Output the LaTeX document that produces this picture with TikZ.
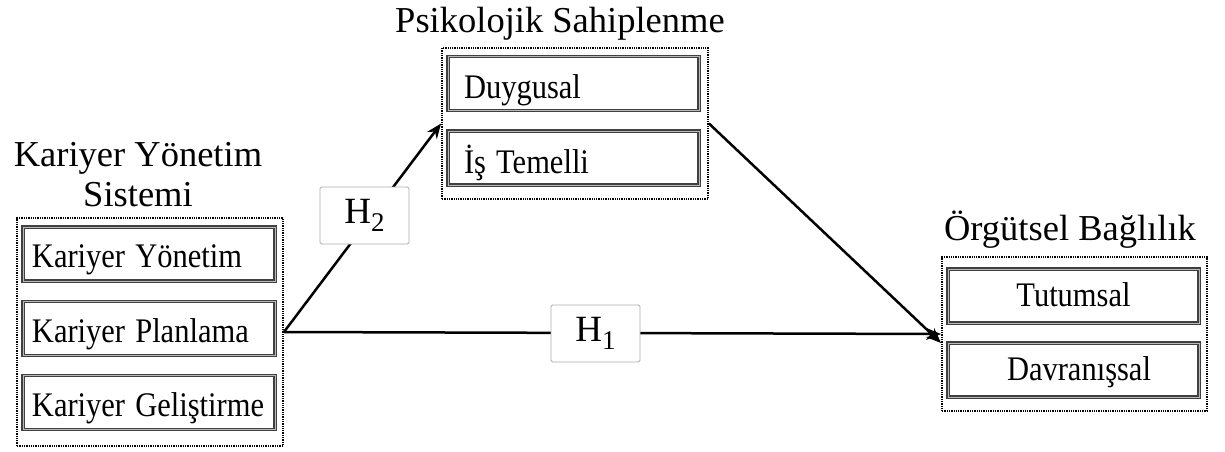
\documentclass[tikz,border=0pt]{standalone}
\usepackage{fontspec}
\setmainfont{Liberation Serif}
\usetikzlibrary{arrows.meta}
\newcommand{\ttl}{\fontsize{36.5}{40}\selectfont}
\newcommand{\inn}{\fontsize{30.5}{34}\selectfont}
\newcommand{\tx}[1]{\scalebox{1}[1.13]{#1}}
\newcommand{\hyp}[1]{\fontsize{37}{40}\selectfont H\raisebox{-8pt}{\fontsize{27}{29}\selectfont #1}}
\tikzset{
  grp/.style={draw=black, line width=1.9pt, dash pattern=on 1.3pt off 1.0pt, inner sep=0pt},
  inbox/.style={draw=black!75, line width=1.2pt, double=gray!55, double distance=0.8pt, fill=white, minimum height=54pt, inner sep=0pt, font=\inn},
  lbox/.style={inbox, text width=252pt, align=left, text height=27pt, text depth=0pt},
  tbox/.style={inbox, text width=251pt, align=left, text height=30pt, text depth=0pt},
  rbox/.style={inbox, minimum width=251pt, text height=20pt, text depth=0pt},
  hbox/.style={draw=gray!65, line width=0.8pt, rounded corners=1.5pt, fill=white, minimum width=89pt, minimum height=57pt, inner sep=0pt},
  arr/.style={line width=2.5pt, -{Stealth[length=15pt,width=12pt]}},
  ttlnode/.style={font=\ttl, inner sep=0pt, align=center}
}
\begin{document}
\begin{tikzpicture}[x=1pt,y=-1pt]
\useasboundingbox (0,0) rectangle (1225,451);
% left group
\node[grp, minimum width=266pt, minimum height=228pt] (lg) at (150,332) {};
\node[lbox] (l1) at (149,254) {\hspace*{9pt}\tx{Kariyer Yönetim}};
\node[lbox] (l2) at (149,328.5) {\hspace*{9pt}\tx{Kariyer Planlama}};
\node[lbox] (l3) at (149,402.5) {\hspace*{9pt}\tx{Kariyer Geliştirme}};
\node[ttlnode, anchor=south] (lt) at (138,207) {Kariyer Yönetim\\Sistemi};
% top group
\node[grp, minimum width=266pt, minimum height=151pt] (tg) at (575,123.5) {};
\node[tbox] (t1) at (573.5,83.5) {\hspace*{16pt}\tx{Duygusal}};
\node[tbox] (t2) at (573.5,158) {\hspace*{16pt}\tx{İş Temelli}};
\node[ttlnode, anchor=base] (tt) at (560,32) {Psikolojik Sahiplenme};
% right group
\node[grp, minimum width=265pt, minimum height=154pt] (rg) at (1074.5,334) {};
\node[rbox] (r1) at (1073.5,296) {\tx{Tutumsal}};
\node[rbox] (r2) at (1073.5,370) {\hspace*{11pt}\tx{Davranışsal}};
\node[ttlnode, anchor=base] (rt) at (1070,240) {Örgütsel Bağlılık};
% arrows
\coordinate (rin) at ([yshift=-9pt]rg.west);
\draw[arr] (lg.east) -- (tg.west);
\draw[arr] (lg.east) -- (rg.west);
\draw[arr] (tg.east) -- (rin);
% hypothesis labels
\node[hbox] (h2) at (364.5,215.5) {\hyp{2}};
\node[hbox] (h1) at (595.5,333.5) {\hyp{1}};
\end{tikzpicture}
\end{document}
